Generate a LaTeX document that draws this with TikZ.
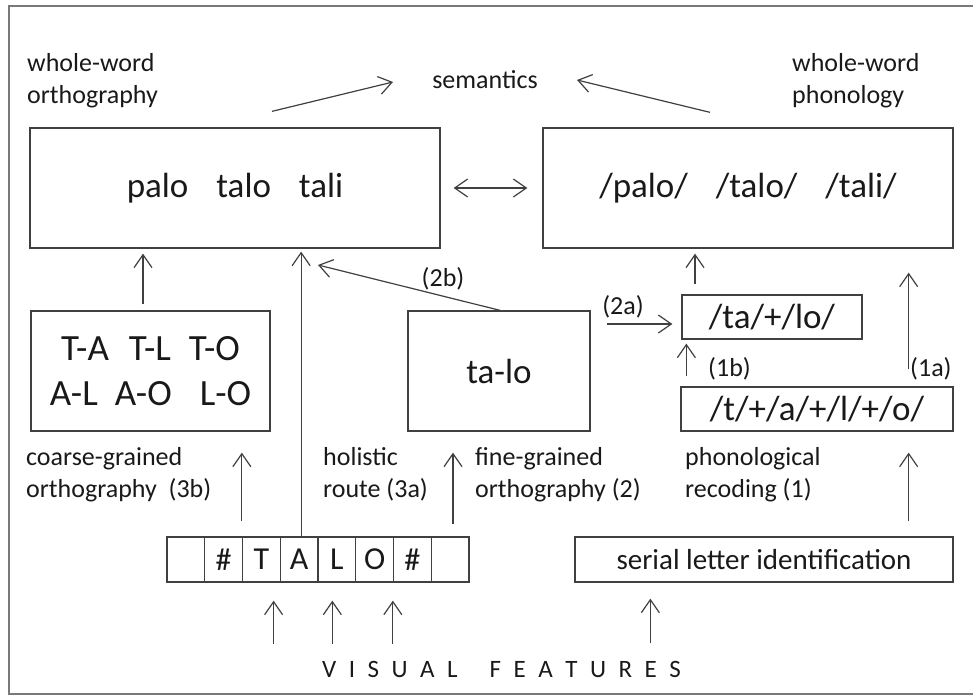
\documentclass[tikz,border=0pt]{standalone}
\usepackage{fontspec}
\setmainfont{Carlito}
\usetikzlibrary{arrows.meta,calc}
\definecolor{ln}{gray}{0.25}
\definecolor{tx}{gray}{0.1}
\newcommand\vfgap{\hspace{12.5pt}}
\tikzset{
  box/.style={draw=ln, line width=1.3pt, inner sep=0pt, text=tx},
  lbl/.style={inner sep=0pt, text=tx, font=\fontsize{26}{31.5}\selectfont, align=left},
  arr/.style={draw=ln, line width=1.2pt, -{Straight Barb[length=13pt,width=18pt,line width=1.2pt]}},
  arrtwo/.style={draw=ln, line width=1.2pt, {Straight Barb[length=13pt,width=18pt,line width=1.2pt]}-{Straight Barb[length=13pt,width=18pt,line width=1.2pt]}},
  cell/.style={box, minimum width=37.75pt, minimum height=45pt, font=\fontsize{32}{38}\selectfont},
  big/.style={font=\fontsize{35}{42}\selectfont}
}
\begin{document}
\begin{tikzpicture}[x=1pt,y=-1pt]
\useasboundingbox (0,0) rectangle (973,696);
\draw[draw=ln!70, line width=1.5pt] (973,6) -- (9,6) -- (9,694) -- (973,694);

% boxes
\node[box, big, minimum width=410pt, minimum height=120pt] (ortho) at (235,188) {palo\hspace{28pt}talo\hspace{28pt}tali};
\node[box, big, minimum width=410pt, minimum height=120pt] (phon) at (748,188) {/palo/\hspace{28pt}/talo/\hspace{28pt}/tali/};
\node[box, minimum width=239pt, minimum height=120pt, align=center, font=\fontsize{37}{45}\selectfont] (coarse) at (150.5,371) {T-A\hspace{20pt}T-L\hspace{18pt}T-O\\A-L\hspace{17pt}A-O\hspace{28pt}L-O};
\node[box, big, minimum width=182pt, minimum height=120pt] (talo) at (499,371) {ta-lo};
\node[box, big, minimum width=180pt, minimum height=44pt] (tapl) at (772,317) {/ta/+/lo/};
\node[box, big, minimum width=272pt, minimum height=44pt] (tsep) at (817,409) {/t/+/a/+/l/+/o/};
\node[box, minimum width=378pt, minimum height=45pt, font=\fontsize{29}{35}\selectfont] (serial) at (764,559.5) {serial letter identification};
\foreach \t [count=\i] in {{}, {\#}, T, A, L, O, {\#}, {}}
  \node[cell] (c\i) at ({167+37.75*(\i-0.5)},559.5) {\t};

% labels
\node[lbl, anchor=north west] (wwo) at (27,53.5) {whole-word\\orthography};
\node[lbl, anchor=base] (sem) at (485,88) {semantics};
\node[lbl, anchor=north west] (wwp) at (792,53.5) {whole-word\\phonology};
\node[lbl, anchor=north west] (lcoarse) at (26,447.5) {coarse-grained\\orthography\ \ (3b)};
\node[lbl, anchor=north west] (lhol) at (323,447.5) {holistic\\route (3a)};
\node[lbl, anchor=north west] (lfine) at (475,447.5) {fine-grained\\orthography (2)};
\node[lbl, anchor=north west] (lphon) at (685,447.5) {phonological\\recoding (1)};
\node[lbl, anchor=base] (l2b) at (443,286) {(2b)};
\node[lbl, anchor=base] (l2a) at (623,314) {(2a)};
\node[lbl, anchor=base west] (l1b) at (708,376) {(1b)};
\node[lbl, anchor=base west] (l1a) at (910,376) {(1a)};
\node[lbl, anchor=base west, font=\fontsize{25}{30}\selectfont] (vf) at (322,677) {V\vfgap I\vfgap S\vfgap U\vfgap A\vfgap L\hspace{32pt}F\vfgap E\vfgap A\vfgap T\vfgap U\vfgap R\vfgap E\vfgap S};

% free ends
\coordinate (semL) at (393,82);
\coordinate (semR) at (577,80);
\coordinate (t2b) at (318,265);

% connectors
\draw[arr] ($(ortho.north)+(37,-16)$) -- (semL);
\draw[arr] ($(phon.north)+(-38,-15)$) -- (semR);
\draw[arrtwo] ($(ortho.east)+(13,0)$) -- ($(phon.west)+(-15,0)$);
\draw[arr] ($(coarse.north)+(-7.5,-6)$) -- ($(coarse.north |- ortho.south)+(-7.5,5)$);
\draw[arr] ($(c4.north)+(2,0)$) -- ($(c4.north |- ortho.south)+(2,3)$);
\draw[arr] ($(talo.north)+(1,0)$) -- (t2b);
\draw[arr] ($(talo.east)+(16,-47)$) -- ($(tapl.west)+(-9,7)$);
\draw[arr] ($(tapl.north)+(-77,-10)$) -- ($(tapl.north |- phon.south)+(-77,5)$);
\draw[arr] ($(tsep.north west)+(6,-10)$) -- ($(tapl.south west)+(5,4)$);
\draw[arr] ($(tsep.north east)+(-45,-17)$) -- ($(tsep.north east |- phon.south)+(-45,24)$);
\draw[arr] ($(c3.north west)+(0,-15)$) -- ($(c3.north west |- coarse.south)+(0,21)$);
\draw[arr] ($(talo.south)+(-46,92)$) -- ($(talo.south)+(-46,21)$);
\draw[arr] ($(serial.north east)+(-45,-15)$) -- ($(tsep.south east)+(-45,21)$);
\draw[arr] ($(c4.south west)+(-6,61)$) -- ($(c4.south west)+(-6,18)$);
\draw[arr] ($(c5.south west)+(15,61)$) -- ($(c5.south west)+(15,18)$);
\draw[arr] ($(c7.south west)+(0,61)$) -- ($(c7.south west)+(0,18)$);
\draw[arr] ($(serial.south west)+(76,60)$) -- ($(serial.south west)+(76,16)$);
\end{tikzpicture}
\end{document}
